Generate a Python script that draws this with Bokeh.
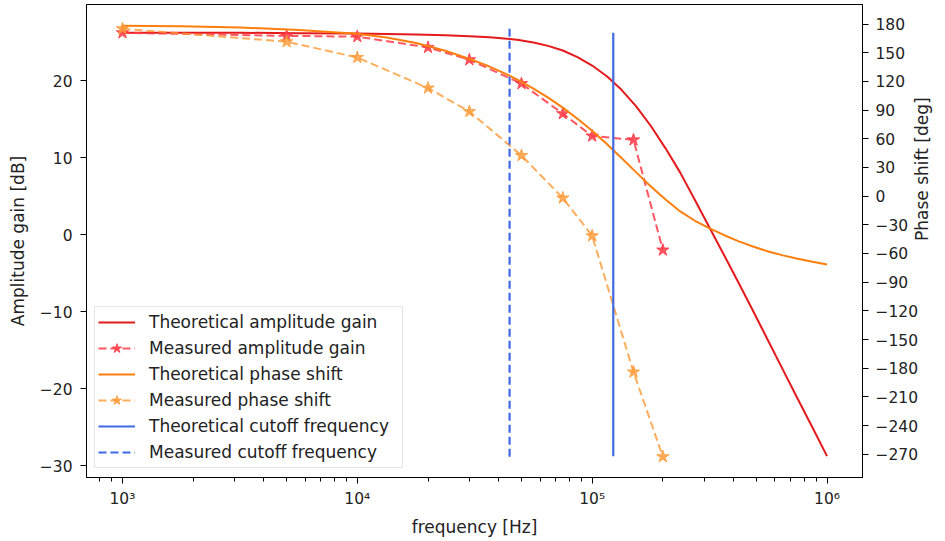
import math
from bokeh.plotting import figure
from bokeh.models import Range1d, LinearAxis, FixedTicker, Legend, LegendItem
from bokeh.embed import file_html
from bokeh.resources import INLINE

# ---------------- data ----------------
theo_log_freq = [3.0, 3.25, 3.5, 3.75, 4.0, 4.125, 4.25, 4.375, 4.5, 4.5625, 4.625,
                 4.6875, 4.75, 4.8125, 4.875, 4.9375, 5.0, 5.0625, 5.125, 5.1875,
                 5.25, 5.3125, 5.375, 5.4375, 5.5, 5.5625, 5.625, 5.6875, 5.75,
                 5.8125, 5.875, 5.9375, 6.0]
theo_gain_db = [26.2, 26.2, 26.2, 26.15, 26.1, 26.05, 25.97, 25.87, 25.72, 25.62, 25.47,
                25.25, 24.95, 24.5, 23.9, 23.05, 21.95, 20.55, 18.8, 16.65,
                14.1, 11.2, 8.05, 4.5, 0.9, -2.7, -6.35, -10.05, -13.8,
                -17.55, -21.3, -25.0, -28.75]
theo_phase_deg = [178.3, 177.6, 176.3, 173.8, 169.8, 165.8, 160.2, 152.0, 141.5, 135.5, 128.7,
                  121.1, 112.5, 103.0, 92.5, 80.9, 68.3, 54.55, 39.85, 24.85,
                  10.15, -3.6, -16.0, -25.8, -33.8, -40.9, -47.3, -53.0, -57.9,
                  -62.0, -65.5, -68.7, -71.6]

meas_freq = [1e3, 5e3, 1e4, 2e4, 3e4, 5e4, 7.5e4, 1e5, 1.5e5, 2e5]
meas_gain_db = [26.2, 25.8, 25.7, 24.3, 22.7, 19.6, 15.7, 12.8, 12.3, -2.0]
meas_phase_deg = [175.0, 161.5, 145.0, 113.0, 88.5, 42.5, -2.0, -41.5, -184.0, -272.5]

cutoff_theo_hz = 1.23e5
cutoff_meas_hz = 4.45e4

x_tick_values = [1e3, 1e4, 1e5, 1e6]
x_tick_labels = ["10\u00b3", "10\u2074", "10\u2075", "10\u2076"]
x_minor_ticks = [m * 10 ** e for e in range(2, 6) for m in range(2, 10)]
gain_ticks = [-30, -20, -10, 0, 10, 20]
phase_ticks = list(range(-270, 181, 30))

legend_labels = ["Theoretical amplitude gain", "Measured amplitude gain",
                 "Theoretical phase shift", "Measured phase shift",
                 "Theoretical cutoff frequency", "Measured cutoff frequency"]

# ---------------- styling ----------------
RED = "#e41a1c"
RED_M = "#ff3b47"
ORANGE = "#ff7f0e"
ORANGE_M = "#ff9933"
BLUE = "#4169e1"
FONT = "DejaVu Sans"
TICK_FS = "15.5px"
LABEL_FS = "17px"

theo_freq = [10 ** e for e in theo_log_freq]

p = figure(width=945, height=541, x_axis_type="log",
           x_range=Range1d(703, 1.416e6), y_range=Range1d(-31.52, 29.87),
           output_backend="svg", toolbar_location=None,
           min_border_left=86, min_border_right=82, min_border_top=4, min_border_bottom=64)
p.extra_y_ranges = {"phase": Range1d(-294.3, 200.4)}
p.xgrid.grid_line_color = None
p.ygrid.grid_line_color = None
p.outline_line_color = "black"
p.outline_line_width = 1
p.background_fill_color = "white"
p.border_fill_color = "white"

right = LinearAxis(y_range_name="phase")
p.add_layout(right, "right")

xa = p.xaxis[0]
ya = p.yaxis[0]
xa.ticker = FixedTicker(ticks=x_tick_values, minor_ticks=x_minor_ticks)
xa.major_label_overrides = {v: s for v, s in zip(x_tick_values, x_tick_labels)}
ya.ticker = FixedTicker(ticks=gain_ticks)
right.ticker = FixedTicker(ticks=phase_ticks)
for ax in (xa, ya, right):
    ax.axis_line_color = "black"
    ax.major_tick_line_color = "black"
    ax.minor_tick_line_color = "black"
    ax.major_tick_in = 0
    ax.major_tick_out = 6
    ax.minor_tick_in = 0
    ax.minor_tick_out = 4
    ax.major_label_text_font = FONT
    ax.major_label_text_font_size = TICK_FS
    ax.major_label_text_color = "#222222"
    ax.axis_label_text_font = FONT
    ax.axis_label_text_font_size = LABEL_FS
    ax.axis_label_text_font_style = "normal"
    ax.axis_label_text_color = "#222222"
ya.minor_tick_line_color = None
right.minor_tick_line_color = None
xa.major_label_standoff = 6
xa.axis_label = "frequency [Hz]"
xa.axis_label_standoff = 6
ya.major_label_standoff = 8
ya.axis_label = "Amplitude gain [dB]"
ya.axis_label_standoff = 9
right.major_label_standoff = 7
right.axis_label = "Phase shift [deg]"
right.axis_label_standoff = 1
right.axis_label_text_baseline = "top"
try:
    right.axis_label_orientation = math.pi / 2
except Exception:
    pass

# ---------------- glyphs ----------------
r1 = p.line(theo_freq, theo_gain_db, line_color=RED, line_width=2)
r2l = p.line(meas_freq, meas_gain_db, line_color=RED_M, line_alpha=0.85, line_width=2, line_dash="8 4")
r2s = p.scatter(meas_freq, meas_gain_db, marker="star", size=13, fill_color=RED_M,
                line_color=RED_M, fill_alpha=0.85, line_alpha=0.85)
r3 = p.line(theo_freq, theo_phase_deg, line_color=ORANGE, line_width=2, y_range_name="phase")
r4l = p.line(meas_freq, meas_phase_deg, line_color=ORANGE_M, line_alpha=0.8, line_width=2,
             line_dash="8 4", y_range_name="phase")
r4s = p.scatter(meas_freq, meas_phase_deg, marker="star", size=13, fill_color=ORANGE_M,
                line_color=ORANGE_M, fill_alpha=0.8, line_alpha=0.8, y_range_name="phase")
r5 = p.segment(x0=[cutoff_theo_hz], y0=[min(theo_gain_db)], x1=[cutoff_theo_hz],
               y1=[max(theo_gain_db)], line_color=BLUE, line_width=2.2)
r6 = p.segment(x0=[cutoff_meas_hz], y0=[min(meas_phase_deg)], x1=[cutoff_meas_hz],
               y1=[max(theo_phase_deg)], line_color=BLUE, line_width=2.2, line_dash="8 4",
               y_range_name="phase")

legend = Legend(items=[
    LegendItem(label=legend_labels[0], renderers=[r1]),
    LegendItem(label=legend_labels[1], renderers=[r2l, r2s]),
    LegendItem(label=legend_labels[2], renderers=[r3]),
    LegendItem(label=legend_labels[3], renderers=[r4l, r4s]),
    LegendItem(label=legend_labels[4], renderers=[r5]),
    LegendItem(label=legend_labels[5], renderers=[r6]),
], location=(8, 9))
legend.label_text_font = FONT
legend.label_text_font_size = LABEL_FS
legend.label_text_color = "#222222"
legend.glyph_width = 37
legend.glyph_height = 24
legend.label_height = 24
legend.label_width = 250
legend.spacing = 2
legend.padding = 3
legend.margin = 0
legend.label_standoff = 14
legend.border_line_color = "#cccccc"
legend.border_line_width = 1
legend.background_fill_color = "white"
legend.background_fill_alpha = 0.85
p.add_layout(legend)

open("out.html", "w").write(file_html(p, INLINE))
